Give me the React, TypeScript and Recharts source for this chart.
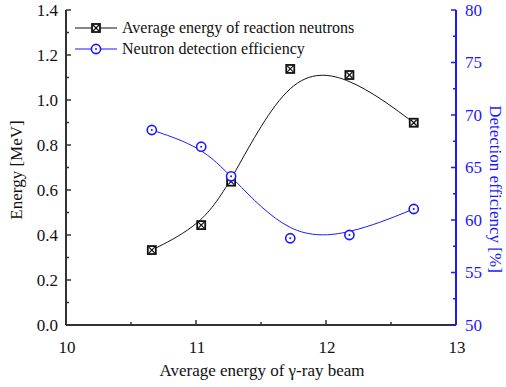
import { LineChart, Line, XAxis, YAxis, Legend, Label } from "recharts";

// average gamma-ray beam energy (MeV) for each measurement
const beamEnergy = [10.66, 11.04, 11.27, 11.725, 12.18, 12.675];
// average energy of the reaction neutrons [MeV]
const neutronEnergy = [0.333, 0.444, 0.637, 1.138, 1.111, 0.899];
// neutron detection efficiency [%]
const detectionEfficiency = [68.57, 66.98, 64.16, 58.26, 58.57, 61.05];

const beamTicks = [10, 11, 12, 13];
const beamMinorTicks = [10.5, 11.5, 12.5];
const energyTicks = [0, 0.2, 0.4, 0.6, 0.8, 1.0, 1.2, 1.4];
const energyMinorTicks = [0.1, 0.3, 0.5, 0.7, 0.9, 1.1, 1.3];
const efficiencyTicks = [50, 55, 60, 65, 70, 75, 80];
const efficiencyMinorTicks = [52.5, 57.5, 62.5, 67.5, 72.5, 77.5];

const data = beamEnergy.map((x, i) => ({
  x,
  energy: neutronEnergy[i],
  efficiency: detectionEfficiency[i],
}));

const FONT = '"Liberation Serif", "Times New Roman", serif';
const AXIS = "#333";
const BLUE = "#1a1aff";

const sortTicks = (a: number[], b: number[]) => [...a, ...b].sort((p, q) => p - q);
const isMajor = (v: number, majors: number[]) => majors.some((m) => Math.abs(m - v) < 1e-6);

function BottomTick({ x, y, payload }: any) {
  const major = isMajor(payload.value, beamTicks);
  return (
    <g>
      <line x1={x} x2={x} y1={y} y2={y - (major ? 5 : 3)} stroke={AXIS} strokeWidth={1.5} />
      {major && (
        <text x={x + 1} y={y + 28} textAnchor="middle" fontFamily={FONT} fontSize={17} fill="#111">
          {payload.value}
        </text>
      )}
    </g>
  );
}

function TopTick({ x, y, payload }: any) {
  const major = isMajor(payload.value, beamTicks);
  return <line x1={x} x2={x} y1={y} y2={y + (major ? 5 : 3)} stroke={AXIS} strokeWidth={1.5} />;
}

function LeftTick({ x, y, payload }: any) {
  const major = isMajor(payload.value, energyTicks);
  return (
    <g>
      <line x1={x} x2={x + (major ? 5 : 3)} y1={y} y2={y} stroke={AXIS} strokeWidth={1.5} />
      {major && (
        <text x={x - 8} y={y} dy="0.35em" textAnchor="end" fontFamily={FONT} fontSize={17} fill="#111">
          {payload.value.toFixed(1)}
        </text>
      )}
    </g>
  );
}

function RightTick({ x, y, payload }: any) {
  const major = isMajor(payload.value, efficiencyTicks);
  return (
    <g>
      <line x1={x} x2={x - (major ? 5 : 3)} y1={y} y2={y} stroke={BLUE} strokeWidth={1.5} />
      {major && (
        <text x={x + 9} y={y} dy="0.35em" textAnchor="start" fontFamily={FONT} fontSize={17} fill={BLUE}>
          {payload.value}
        </text>
      )}
    </g>
  );
}

function SquareMark({ cx, cy }: { cx: number; cy: number }) {
  return (
    <g>
      <rect x={cx - 4} y={cy - 4} width={8} height={8} fill="#fff" stroke="#111" strokeWidth={1.8} />
      <line x1={cx - 3} y1={cy - 3} x2={cx + 3} y2={cy + 3} stroke="#111" strokeWidth={1.2} />
      <line x1={cx - 3} y1={cy + 3} x2={cx + 3} y2={cy - 3} stroke="#111" strokeWidth={1.2} />
    </g>
  );
}

function CircleMark({ cx, cy }: { cx: number; cy: number }) {
  return (
    <g>
      <circle cx={cx} cy={cy} r={4.6} fill="#fff" stroke={BLUE} strokeWidth={1.6} />
      <circle cx={cx} cy={cy} r={1} fill={BLUE} />
    </g>
  );
}

function LegendBox({ payload }: any) {
  return (
    <div style={{ fontFamily: FONT, fontSize: 16, color: "#111" }}>
      {(payload || []).map((item: any) => (
        <div key={item.value} style={{ display: "flex", alignItems: "center", height: 21 }}>
          <svg width={42} height={14} style={{ marginRight: 5 }}>
            <line x1={0} x2={42} y1={7} y2={7} stroke={item.color} strokeWidth={1.2} />
            {item.dataKey === "energy" ? <SquareMark cx={21} cy={7} /> : <CircleMark cx={21} cy={7} />}
          </svg>
          <span>{item.value}</span>
        </div>
      ))}
    </div>
  );
}

export default function App() {
  return (
    <div style={{ position: "absolute", left: 0, top: 0, background: "#fff" }}>
      <LineChart width={506} height={387} data={data} margin={{ top: 10, right: 0, bottom: 0, left: 0 }}>
        <XAxis
          dataKey="x"
          type="number"
          domain={[10, 13]}
          ticks={sortTicks(beamTicks, beamMinorTicks)}
          interval={0}
          height={62}
          tickSize={0}
          tickMargin={0}
          tick={<BottomTick />}
          axisLine={{ stroke: AXIS, strokeWidth: 2 }}
        >
          <Label
            content={() => (
              <text x={262} y={376} textAnchor="middle" fontFamily={FONT} fontSize={17} fill="#111">
                Average energy of γ-ray beam
              </text>
            )}
          />
        </XAxis>
        <XAxis
          xAxisId="top"
          orientation="top"
          dataKey="x"
          type="number"
          domain={[10, 13]}
          ticks={sortTicks(beamTicks, beamMinorTicks)}
          interval={0}
          height={0}
          tickSize={0}
          tickMargin={0}
          tick={<TopTick />}
          axisLine={{ stroke: AXIS, strokeWidth: 2 }}
        />
        <YAxis
          yAxisId="left"
          type="number"
          domain={[0, 1.4]}
          ticks={sortTicks(energyTicks, energyMinorTicks)}
          interval={0}
          width={66}
          tickSize={0}
          tickMargin={0}
          tick={<LeftTick />}
          axisLine={{ stroke: AXIS, strokeWidth: 2 }}
        >
          <Label
            content={() => (
              <text transform="translate(22,170) rotate(-90)" textAnchor="middle" fontFamily={FONT} fontSize={17} fill="#111">
                Energy [MeV]
              </text>
            )}
          />
        </YAxis>
        <YAxis
          yAxisId="right"
          orientation="right"
          type="number"
          domain={[50, 80]}
          ticks={sortTicks(efficiencyTicks, efficiencyMinorTicks)}
          interval={0}
          width={50}
          tickSize={0}
          tickMargin={0}
          tick={<RightTick />}
          axisLine={{ stroke: BLUE, strokeWidth: 2 }}
        >
          <Label
            content={() => (
              <text transform="translate(490,189) rotate(90)" textAnchor="middle" fontFamily={FONT} fontSize={17} fill={BLUE}>
                Detection efficiency [%]
              </text>
            )}
          />
        </YAxis>
        <Legend
          layout="vertical"
          align="center"
          verticalAlign="middle"
          content={<LegendBox />}
          wrapperStyle={{ left: 75, top: 17, width: "auto", height: "auto" }}
        />
        <Line
          yAxisId="left"
          dataKey="energy"
          name="Average energy of reaction neutrons"
          type="basis"
          stroke="#111"
          strokeWidth={1}
          dot={(p: any) => <SquareMark key={`sq-${p.index}`} cx={p.cx} cy={p.cy} />}
          activeDot={false}
          isAnimationActive={false}
        />
        <Line
          yAxisId="right"
          dataKey="efficiency"
          name="Neutron detection efficiency"
          type="basis"
          stroke={BLUE}
          strokeWidth={1}
          dot={(p: any) => <CircleMark key={`ci-${p.index}`} cx={p.cx} cy={p.cy} />}
          activeDot={false}
          isAnimationActive={false}
        />
      </LineChart>
    </div>
  );
}
